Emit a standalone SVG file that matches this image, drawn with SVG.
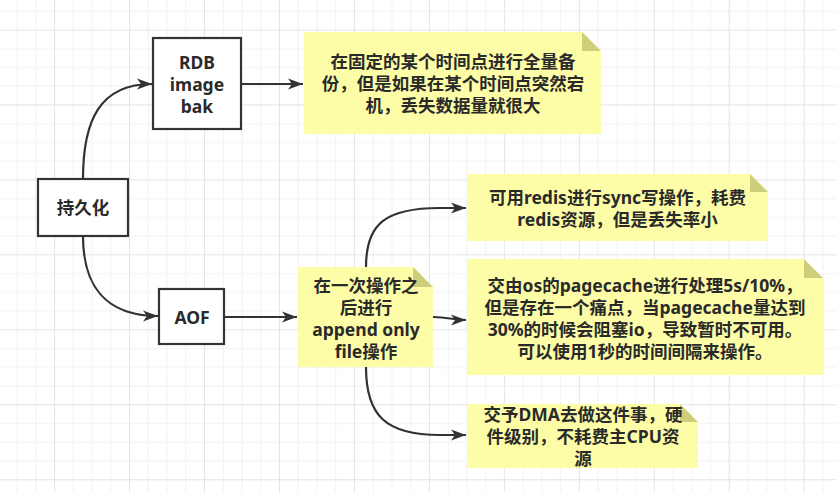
<svg xmlns="http://www.w3.org/2000/svg" width="837" height="492" viewBox="0 0 837 492">
<style>
.box{fill:#ffffff;stroke:#333333;stroke-width:2.2}
.note{fill:#fdfda7}
.fold{fill:#cdcd7c}
.t{font-family:"Noto Sans","Noto Sans CJK SC",sans-serif;font-size:17.5px;font-weight:bold;fill:#2a2a2a;text-anchor:middle}
.edge{fill:none;stroke:#333333;stroke-width:2.2;marker-end:url(#arr)}
</style>
<defs>
<pattern id="grid" patternUnits="userSpaceOnUse" x="54.1" y="29.5" width="74.96" height="74.96">
<rect x="18.74" y="0" width="1" height="74.96" fill="#f1f1f1"/>
<rect x="37.48" y="0" width="1" height="74.96" fill="#f1f1f1"/>
<rect x="56.22" y="0" width="1" height="74.96" fill="#f1f1f1"/>
<rect x="0" y="18.74" width="74.96" height="1" fill="#f1f1f1"/>
<rect x="0" y="37.48" width="74.96" height="1" fill="#f1f1f1"/>
<rect x="0" y="56.22" width="74.96" height="1" fill="#f1f1f1"/>
<rect x="0" y="0" width="1" height="74.96" fill="#e4e4e4"/>
<rect x="0" y="0" width="74.96" height="1" fill="#e4e4e4"/>
</pattern>
<marker id="arr" markerUnits="userSpaceOnUse" markerWidth="16" markerHeight="12" viewBox="0 0 16 12" refX="15" refY="6" orient="auto">
<path d="M0,0.5 L15,6 L0,11.5 L4,6 Z" fill="#333333"/>
</marker>
</defs>
<rect width="837" height="492" fill="#ffffff"/>
<rect width="837" height="492" fill="url(#grid)"/>

<g id="connectors">
<path class="edge" d="M83,179 C83,120 100,84 152,84"/>
<path class="edge" d="M83,236 C83,285 105,316 158,316"/>
<path class="edge" d="M241,84 L303,84"/>
<path class="edge" d="M224,317 L297,317"/>
<path class="edge" d="M366,267 C366,224 385,208 440,208 L466,208"/>
<path class="edge" d="M433,317 C450,317 450,320 466,320"/>
<path class="edge" d="M366,367 C366,415 385,435 440,435 L466,435"/>
</g>

<g id="node-persist">
<rect class="box" x="38" y="179" width="90" height="57"/>
<text class="t" x="83" y="214">持久化</text>
</g>

<g id="node-rdb">
<rect class="box" x="153" y="38" width="88" height="91"/>
<text class="t"><tspan x="197" y="69">RDB</tspan><tspan x="197" y="91">image</tspan><tspan x="197" y="113">bak</tspan></text>
</g>

<g id="node-aof">
<rect class="box" x="159" y="289" width="65" height="55"/>
<text class="t" x="192" y="324">AOF</text>
</g>

<g id="note-rdb">
<path class="note" d="M304,32 L582,32 L601,51 L601,134 L304,134 Z"/>
<path class="fold" d="M582,32 L601,51 L582,51 Z"/>
<text class="t"><tspan x="453" y="68">在固定的某个时间点进行全量备</tspan><tspan x="453" y="90">份，但是如果在某个时间点突然宕</tspan><tspan x="453" y="112">机，丢失数据量就很大</tspan></text>
</g>

<g id="note-aof">
<path class="note" d="M298,267 L413,267 L433,287 L433,367 L298,367 Z"/>
<path class="fold" d="M413,267 L433,287 L413,287 Z"/>
<text class="t"><tspan x="366" y="292">在一次操作之</tspan><tspan x="366" y="314">后进行</tspan><tspan x="366" y="336">append only</tspan><tspan x="366" y="358">file操作</tspan></text>
</g>

<g id="note-sync">
<path class="note" d="M467,174 L750,174 L768,192 L768,241 L467,241 Z"/>
<path class="fold" d="M750,174 L768,192 L750,192 Z"/>
<text class="t"><tspan x="617.5" y="204">可用redis进行sync写操作，耗费</tspan><tspan x="617.5" y="226">redis资源，但是丢失率小</tspan></text>
</g>

<g id="note-pagecache">
<path class="note" d="M467,259 L804,259 L823,278 L823,375 L467,375 Z"/>
<path class="fold" d="M804,259 L823,278 L804,278 Z"/>
<text class="t"><tspan x="645" y="292">交由os的pagecache进行处理5s/10%，</tspan><tspan x="645" y="314">但是存在一个痛点，当pagecache量达到</tspan><tspan x="645" y="336">30%的时候会阻塞io，导致暂时不可用。</tspan><tspan x="645" y="358">可以使用1秒的时间间隔来操作。</tspan></text>
</g>

<g id="note-dma">
<path class="note" d="M467,404 L680,404 L698,422 L698,468 L467,468 Z"/>
<path class="fold" d="M680,404 L698,422 L680,422 Z"/>
<text class="t"><tspan x="583" y="421">交予DMA去做这件事，硬</tspan><tspan x="583" y="443">件级别，不耗费主CPU资</tspan><tspan x="583" y="465">源</tspan></text>
</g>
</svg>
